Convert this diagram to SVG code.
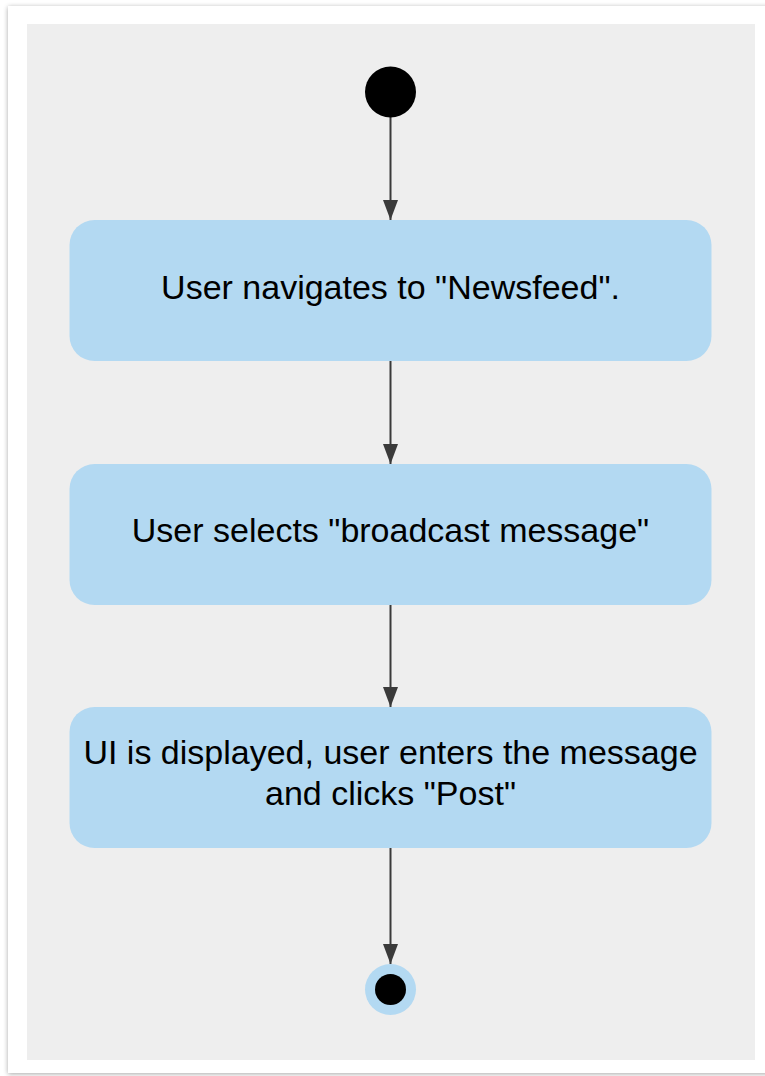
<svg xmlns="http://www.w3.org/2000/svg" width="765" height="1076" viewBox="0 0 765 1076">
<defs>
<filter id="sh" x="-5%" y="-5%" width="110%" height="110%">
<feGaussianBlur in="SourceAlpha" stdDeviation="2.5"/>
<feOffset dx="0" dy="1"/>
<feComponentTransfer><feFuncA type="linear" slope="0.35"/></feComponentTransfer>
<feMerge><feMergeNode/><feMergeNode in="SourceGraphic"/></feMerge>
</filter>
<marker id="arr" viewBox="0 0 20 15" refX="20" refY="7.5" markerWidth="20" markerHeight="15" markerUnits="userSpaceOnUse" orient="auto">
<path d="M0,0 L20,7.5 L0,15 z" fill="#3a3a3a"/>
</marker>
</defs>
<style>
.act{fill:#b3d9f2;}
.lbl{font-family:"Liberation Sans",Arial,sans-serif;font-size:34px;fill:#000;text-anchor:middle;}
.edge{stroke:#3a3a3a;stroke-width:2;fill:none;marker-end:url(#arr);}
</style>
<rect x="0" y="0" width="765" height="1076" fill="#ffffff"/>
<rect x="8" y="6" width="770" height="1067" fill="#ffffff" filter="url(#sh)"/>
<rect x="27" y="24" width="728" height="1036" fill="#eeeeee"/>
<g id="connectors">
<line class="edge" x1="390.5" y1="117" x2="390.5" y2="220"/>
<line class="edge" x1="390.5" y1="361" x2="390.5" y2="464"/>
<line class="edge" x1="390.5" y1="605" x2="390.5" y2="707"/>
<line class="edge" x1="390.5" y1="848" x2="390.5" y2="964"/>
</g>
<g id="start">
<circle cx="390.5" cy="92" r="25.5" fill="#000"/>
</g>
<g id="a1">
<rect class="act" x="69.5" y="220" width="642" height="141" rx="25"/>
<text class="lbl" x="390.5" y="299">User navigates to "Newsfeed".</text>
</g>
<g id="a2">
<rect class="act" x="69.5" y="464" width="642" height="141" rx="25"/>
<text class="lbl" x="390.5" y="542">User selects "broadcast message"</text>
</g>
<g id="a3">
<rect class="act" x="69.5" y="707" width="642" height="141" rx="25"/>
<text class="lbl" x="390.5" y="764">UI is displayed, user enters the message</text>
<text class="lbl" x="390.5" y="805">and clicks "Post"</text>
</g>
<g id="end">
<circle cx="390.5" cy="989.5" r="25.5" fill="#b3d9f2"/>
<circle cx="390.5" cy="989.5" r="15.5" fill="#000"/>
</g>
</svg>
